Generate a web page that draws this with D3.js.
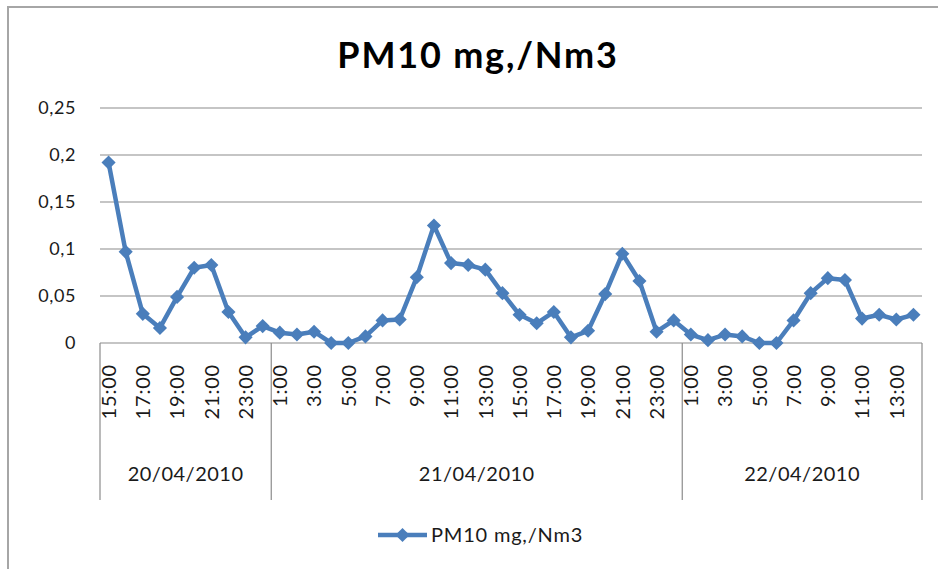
<!DOCTYPE html>
<html>
<head>
<meta charset="utf-8">
<script src="https://cdn.jsdelivr.net/npm/d3@7"></script>
<style>
  body { margin: 0; background: #fff; }
  text { font-family: Lato, "Open Sans", sans-serif; fill: #1a1a1a; }
</style>
</head>
<body>
<svg width="938" height="569"></svg>
<script>
// days shown on the second axis level and how many hourly readings fall in each
var days = ["20/04/2010", "21/04/2010", "22/04/2010"];
var dayCounts = [10, 24, 14];

// hour label of each reading
var hours = [
  "15:00","16:00","17:00","18:00","19:00","20:00","21:00","22:00","23:00","24:00",
  "1:00","2:00","3:00","4:00","5:00","6:00","7:00","8:00","9:00","10:00","11:00","12:00",
  "13:00","14:00","15:00","16:00","17:00","18:00","19:00","20:00","21:00","22:00","23:00","24:00",
  "1:00","2:00","3:00","4:00","5:00","6:00","7:00","8:00","9:00","10:00","11:00","12:00","13:00","14:00"
];

// PM10 readings, mg/Nm3
var values = [
  0.192, 0.097, 0.031, 0.016, 0.049, 0.080, 0.083, 0.033, 0.006, 0.018,
  0.011, 0.009, 0.012, 0.000, 0.000, 0.007, 0.024, 0.025, 0.070, 0.125, 0.085, 0.083,
  0.078, 0.053, 0.030, 0.021, 0.033, 0.006, 0.013, 0.052, 0.095, 0.066, 0.012, 0.024,
  0.009, 0.003, 0.009, 0.007, 0.000, 0.000, 0.024, 0.053, 0.069, 0.067, 0.026, 0.030, 0.025, 0.030
];

var yTicks = [0, 0.05, 0.1, 0.15, 0.2, 0.25];
var seriesName = "PM10 mg,/Nm3";

var svg = d3.select("svg");
var blue = "#4a7ebb";
var grid = "#8c8c8c";

// outer chart frame
svg.append("rect")
    .attr("x", 8).attr("y", 7)
    .attr("width", 960).attr("height", 600)
    .attr("fill", "#fff")
    .attr("stroke", "#a6a6a6")
    .attr("stroke-width", 2);

var idx = d3.range(values.length);

var x = d3.scaleBand()
    .domain(idx)
    .range([100, 922])
    .padding(0);

var y = d3.scaleLinear()
    .domain([0, 0.25])
    .range([343, 108]);

// title
svg.append("text")
    .attr("x", 478).attr("y", 68)
    .attr("text-anchor", "middle")
    .style("font-size", "36px")
    .style("font-weight", "bold")
    .style("letter-spacing", "1.8px")
    .style("fill", "#000")
    .text(seriesName);

// horizontal gridlines
svg.append("g")
  .selectAll("line")
  .data(yTicks)
  .enter().append("line")
    .attr("x1", 100).attr("x2", 922)
    .attr("y1", function(d) { return y(d); })
    .attr("y2", function(d) { return y(d); })
    .attr("stroke", grid)
    .attr("stroke-width", 1.2);

// y axis labels, decimal comma
var yAxis = svg.append("g")
    .attr("transform", "translate(100,0)")
    .call(d3.axisLeft(y)
      .tickValues(yTicks)
      .tickSize(0)
      .tickPadding(24)
      .tickFormat(function(d) { return String(d).replace(".", ","); }));
yAxis.select(".domain").remove();
yAxis.selectAll("text")
    .style("font-size", "18px")
    .style("letter-spacing", "0.6px")
    .style("font-family", "Lato, sans-serif")
    .attr("fill", "#1a1a1a");

// hour labels, every second one, rotated
var xAxis = svg.append("g")
    .attr("transform", "translate(0,343)")
    .call(d3.axisBottom(x)
      .tickValues(idx.filter(function(i) { return i % 2 === 0; }))
      .tickSize(0)
      .tickFormat(function(i) { return hours[i]; }));
xAxis.select(".domain").remove();
xAxis.selectAll("text")
    .attr("transform", "rotate(-90)")
    .attr("text-anchor", "end")
    .attr("x", -21)
    .attr("y", 0)
    .attr("dy", "0.36em")
    .style("font-size", "20px")
    .style("letter-spacing", "0.8px")
    .style("font-family", "Lato, sans-serif")
    .attr("fill", "#1a1a1a");

// day groups: separators and labels
var starts = [0];
dayCounts.forEach(function(c, i) { starts.push(starts[i] + c); });
var edges = starts.map(function(s) { return s < values.length ? x(s) : x.range()[1]; });

svg.append("g")
  .selectAll("line")
  .data(edges)
  .enter().append("line")
    .attr("x1", function(d) { return d; })
    .attr("x2", function(d) { return d; })
    .attr("y1", 343).attr("y2", 500)
    .attr("stroke", grid)
    .attr("stroke-width", 1.2);

svg.append("g")
  .selectAll("text")
  .data(days)
  .enter().append("text")
    .attr("x", function(d, i) { return (edges[i] + edges[i + 1]) / 2; })
    .attr("y", 481)
    .attr("text-anchor", "middle")
    .style("font-size", "20px")
    .style("letter-spacing", "0.5px")
    .text(function(d) { return d; });

// series line
var line = d3.line()
    .x(function(d, i) { return x(i) + x.bandwidth() / 2; })
    .y(function(d) { return y(d); });

svg.append("path")
    .datum(values)
    .attr("d", line)
    .attr("fill", "none")
    .attr("stroke", blue)
    .attr("stroke-width", 4.5)
    .attr("stroke-linejoin", "round");

var diamond = d3.symbol().type(d3.symbolSquare).size(100);

svg.append("g")
  .selectAll("path")
  .data(values)
  .enter().append("path")
    .attr("d", diamond)
    .attr("transform", function(d, i) {
      return "translate(" + (x(i) + x.bandwidth() / 2) + "," + y(d) + ") rotate(45)";
    })
    .attr("fill", blue);

// legend
var legend = svg.append("g").attr("transform", "translate(378,535)");
legend.append("line")
    .attr("x1", 0).attr("x2", 49)
    .attr("stroke", blue)
    .attr("stroke-width", 4.5);
legend.append("path")
    .attr("d", diamond)
    .attr("transform", "translate(24.5,0) rotate(45)")
    .attr("fill", blue);
legend.append("text")
    .attr("x", 53).attr("y", 0)
    .attr("dy", "0.35em")
    .style("font-size", "20px")
    .style("letter-spacing", "0.8px")
    .text(seriesName);
</script>
</body>
</html>
